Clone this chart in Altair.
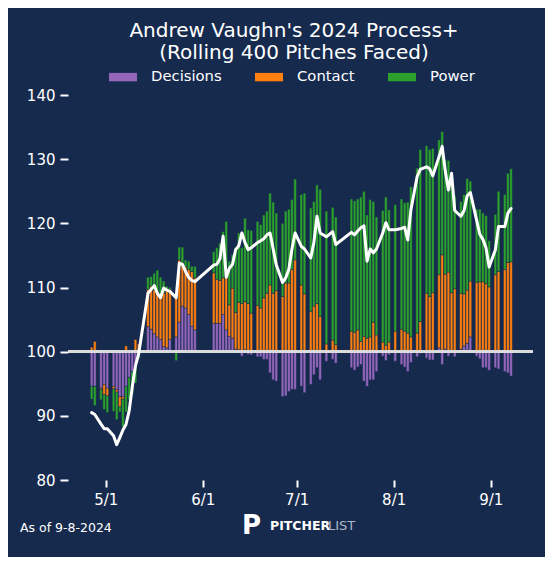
import altair as alt
import pandas as pd

# ---------------- data ----------------
game_dates = [
    "04-26", "04-27", "04-29", "04-30", "05-01", "05-03", "05-04", "05-05", "05-06", "05-07",
    "05-08", "05-09", "05-10", "05-11",
    "05-14", "05-15", "05-16", "05-17", "05-18", "05-19", "05-20", "05-21",
    "05-23", "05-24", "05-25", "05-26", "05-27", "05-28", "05-29",
    "06-04", "06-05", "06-06", "06-07", "06-08", "06-09", "06-10", "06-11", "06-12", "06-13",
    "06-14", "06-15", "06-16",
    "06-18", "06-19", "06-20", "06-21", "06-22", "06-23", "06-24", "06-26", "06-27", "06-28",
    "06-29", "06-30",
    "07-02", "07-03", "07-05", "07-06", "07-07", "07-08", "07-10", "07-12", "07-13",
    "07-18", "07-19", "07-20", "07-21", "07-22", "07-23", "07-24", "07-25", "07-26", "07-28",
    "07-29", "07-30",
    "08-01", "08-03", "08-04", "08-05", "08-06", "08-08", "08-09", "08-11", "08-12", "08-13",
    "08-15", "08-16", "08-17", "08-18", "08-19", "08-20", "08-22", "08-23", "08-24", "08-25",
    "08-27", "08-28", "08-29", "08-30", "08-31",
    "09-02", "09-03", "09-05", "09-06", "09-07",
]

decisions = [
    -5.4, -5.4, -5.7, -5.1, -5.7, -5.4, -5.9, -7.0, -7.0, -5.4, -4.0, -3.1, -2.0, -0.6,
    3.9, 3.5, 2.8, 2.3, 1.9, 0.8, 0.6, 1.9,
    2.3, 4.6, 7.1, 6.8, 5.8, 4.0, 3.4,
    4.4, 4.4, 4.4, 5.8, 3.4, 2.4, 2.1, 0.4, 0.3, -0.7, 0.3, -0.4, -0.5,
    -0.8, -0.8, -1.2, -1.2, -3.3, -4.4, -4.6, -7.0, -6.9, -6.2, -5.9, -5.9,
    -5.4, -6.4, -5.1, -3.6, -2.5, -4.4, -1.5, -1.2, -1.8,
    -2.5, -2.9, -2.4, -2.0, -4.6, -5.4, -4.4, -4.4, -3.1, -0.7, -1.4, -0.5,
    -1.5, -2.0, -2.4, -3.1, -1.7, -0.8, -0.3, -1.0, -1.3, -1.3, 0.6, -2.0, 0.4, -0.7, 0.2,
    -0.8, 0.4, 0.9, 1.3, 2.3, -0.7, -1.1, -2.5, -2.5, -2.9,
    -2.5, -2.7, -3.1, -3.3, -3.8,
]

contact = [
    0.7, 1.6, -0.2, -1.6, -1.2, -0.4, -0.4, -1.6, -0.4, 0.9, 0.0, 0.1, 1.9, 1.2,
    5.8, 6.7, 6.8, 7.1, 7.0, 8.3, 8.8, 7.8,
    6.1, 9.7, 6.7, 6.4, 7.0, 8.5, 8.1,
    7.9, 6.9, 6.7, 5.7, 8.3, 4.9, 7.8, 5.7, 7.4, 7.5, 7.5, 7.5, 6.0,
    7.2, 6.8, 8.4, 9.1, 10.4, 9.1, 9.5, 8.6, 10.7, 10.7, 12.8, 14.3,
    10.4, 9.0, 6.3, 7.1, 7.5, 5.5, 1.2, 1.8, 1.1,
    3.2, 3.0, 3.4, 1.6, 2.4, 2.1, 2.3, 4.6, 2.6, 1.5, 1.0, 1.5,
    3.2, 3.5, 3.2, 2.9, 2.3, 2.9, 4.7, 9.1, 8.6, 9.2, 11.4, 15.1, 11.7, 12.4, 9.0,
    9.8, 8.7, 8.1, 8.3, 8.7, 10.8, 10.9, 10.9, 10.6, 10.1,
    12.0, 12.5, 12.8, 13.9, 14.0,
]

power = [
    -2.0, -3.0, -1.6, -2.3, -2.6, -3.5, -4.3, -0.8, -4.3, -4.0, -3.5, -3.5, -2.9, -0.5,
    1.9, 1.5, 2.6, 3.3, 2.7, 1.9, 0.8, 0.3,
    -1.4, 2.0, 2.5, 1.1, 1.3, 0.8, 1.8,
    3.3, 4.9, 5.8, 7.2, 8.6, 6.8, 5.2, 10.1, 10.8, 8.7, 13.0, 11.5, 12.9,
    13.1, 13.0, 12.9, 12.8, 14.3, 14.2, 12.1, 11.4, 11.2, 11.5, 10.9, 12.6,
    14.1, 15.7, 16.1, 16.3, 18.5, 19.8, 20.7, 20.7, 19.9,
    20.6, 20.5, 20.4, 22.5, 22.6, 19.2, 21.4, 18.8, 18.4, 20.5, 23.1, 20.6,
    19.7, 20.3, 20.0, 20.4, 23.4, 25.7, 26.8, 23.0, 22.9, 22.5, 21.0, 19.2, 17.8, 17.4, 18.2,
    14.5, 14.3, 15.5, 17.4, 15.6, 11.4, 11.3, 10.7, 10.6, 7.2,
    9.4, 12.5, 11.7, 13.9, 14.5,
]

process_plus = [
    90.5, 90.2, 88.7, 88.0, 88.0, 86.9, 85.5, 86.6, 87.8, 88.7, 90.8, 94.6, 97.8, 99.6,
    109.1, 109.7, 110.3, 109.1, 108.4, 109.9, 109.6, 109.4,
    108.4, 113.8, 113.6, 112.5, 111.6, 111.1, 110.9,
    113.5, 113.6, 114.5, 118.0, 111.6, 113.0, 113.6, 115.9, 116.5, 118.5, 117.0, 115.9, 116.2,
    117.0, 117.3, 117.6, 118.2, 118.5, 116.0, 113.5, 110.8, 111.5, 112.8, 116.0, 118.5,
    116.4, 116.0, 114.6, 117.0, 121.1, 118.5, 117.9, 118.7, 116.7,
    118.6, 118.2, 118.8, 119.3, 119.6, 114.1, 116.0, 115.4, 116.0, 118.5, 120.1, 119.0,
    119.0, 119.2, 119.4, 117.4, 122.1, 127.3, 128.4, 128.8, 128.5, 127.4, 130.4, 132.0, 128.1,
    125.2, 127.8, 122.0, 121.1, 122.0, 124.3, 124.8, 120.5, 118.3, 117.5, 116.2, 113.2,
    115.9, 119.5, 119.5, 121.6, 122.3,
]

categories = ["Decisions", "Contact", "Power"]
category_colors = ["#9467bd", "#ff7f0e", "#2ca02c"]
y_ticks = [80, 90, 100, 110, 120, 130, 140]
x_tick_months = [5, 6, 7, 8, 9]

title_lines = ["Andrew Vaughn's 2024 Process+", "(Rolling 400 Pitches Faced)"]
footer_note = "As of 9-8-2024"
brand_mark = "P"
brand_bold = "PITCHER"
brand_light = "LIST"

# ---------------- build ----------------
df = pd.DataFrame({
    "date": ["2024-" + d + "T12:00:00" for d in game_dates],
    "Decisions": decisions,
    "Contact": contact,
    "Power": power,
    "process": process_plus,
})

BG = "#162a4e"
FONT = "DejaVu Sans"

x_scale = alt.Scale(domain=[
    alt.DateTime(year=2024, month=4, date=20, hours=13),
    alt.DateTime(year=2024, month=9, date=12, hours=22),
])
y_scale = alt.Scale(domain=[80, 140], nice=False, zero=False)

x_axis = alt.Axis(
    values=[alt.DateTime(year=2024, month=m, date=1) for m in x_tick_months],
    format="%-m/%-d", title=None, grid=False, domain=False,
    tickColor="white", tickSize=7, tickWidth=2,
    labelColor="white", labelFont=FONT, labelFontSize=15, labelPadding=5,
)
y_axis = alt.Axis(
    values=y_ticks, title=None, grid=False, domain=False,
    tickColor="white", tickSize=8, tickWidth=2,
    labelColor="white", labelFont=FONT, labelFontSize=15, labelPadding=5,
)

bars = (
    alt.Chart(df)
    .transform_fold(categories, as_=["component", "delta"])
    .transform_calculate(order="indexof(['Decisions','Contact','Power'], datum.component)")
    .transform_stack(stack="delta", groupby=["date"], as_=["s0", "s1"],
                     sort=[alt.SortField("order", order="ascending")])
    .transform_calculate(y0="100 + datum.s0", y1="100 + datum.s1")
    .mark_bar(size=2.7, stroke=BG, strokeWidth=0.5)
    .encode(
        x=alt.X("date:T", scale=x_scale, axis=x_axis),
        y=alt.Y("y0:Q", scale=y_scale, axis=y_axis),
        y2="y1:Q",
        color=alt.Color(
            "component:N",
            scale=alt.Scale(domain=categories, range=category_colors),
            legend=alt.Legend(
                orient="none", legendX=41, legendY=-32, direction="horizontal",
                title=None, symbolType="M-1,-0.3H1V0.3H-1Z", symbolSize=784,
                symbolStrokeWidth=0, symbolOpacity=1,
                labelColor="white", labelFont=FONT, labelFontSize=14.8,
                labelOffset=14, columnPadding=33,
            ),
        ),
    )
)

baseline = alt.Chart(df).mark_rule(color="#dcdcdc", strokeWidth=2).encode(y=alt.datum(100))

line = alt.Chart(df).mark_line(color="white", strokeWidth=3, strokeJoin="round", strokeCap="round").encode(
    x=alt.X("date:T", scale=x_scale),
    y=alt.Y("process:Q", scale=y_scale),
)

note = alt.Chart(pd.DataFrame({"t": [footer_note]})).mark_text(
    align="left", baseline="alphabetic", color="white", font=FONT, fontSize=12.5
).encode(x=alt.value(-48), y=alt.value(436.5), text="t:N")

logo_p = alt.Chart(pd.DataFrame({"t": [brand_mark]})).mark_text(
    align="left", baseline="alphabetic", color="white", font=FONT, fontSize=26, fontWeight="bold"
).encode(x=alt.value(174), y=alt.value(439), text="t:N")

logo_bold = alt.Chart(pd.DataFrame({"t": [brand_bold]})).mark_text(
    align="left", baseline="alphabetic", color="white", font=FONT, fontSize=12.5, fontWeight="bold"
).encode(x=alt.value(202), y=alt.value(435), text="t:N")

logo_light = alt.Chart(pd.DataFrame({"t": [brand_light]})).mark_text(
    align="left", baseline="alphabetic", color="#aeb6c6", font=FONT, fontSize=13
).encode(x=alt.value(260), y=alt.value(435), text="t:N")

chart = (
    alt.layer(bars, baseline, line, note, logo_p, logo_bold, logo_light)
    .properties(
        width=465, height=385,
        title=alt.TitleParams(
            text=title_lines, color="white", font=FONT, fontSize=20, fontWeight="normal",
            anchor="middle", frame="group", dx=-6.5, dy=8, offset=8, lineHeight=22.5,
        ),
        autosize=alt.AutoSizeParams(type="none"),
        padding={"left": 60, "top": 87, "right": 12, "bottom": 77},
        background=BG,
    )
    .configure_view(stroke=None)
)

chart.save("out.html", embed_options={"renderer": "svg", "actions": False})
